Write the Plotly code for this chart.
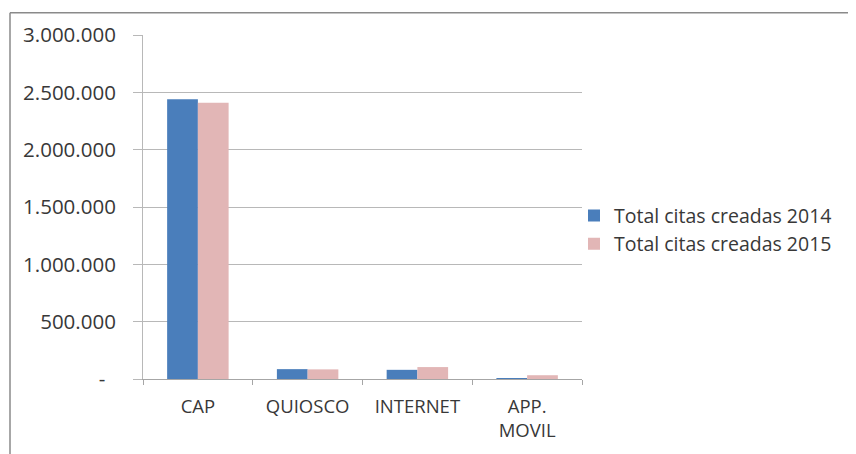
import plotly.graph_objects as go

categories = ["CAP", "QUIOSCO", "INTERNET", "APP.<br>MOVIL"]
series_2014 = [2440000, 86000, 80000, 5000]
series_2015 = [2410000, 84000, 104000, 33000]
name_2014 = "Total citas creadas 2014"
name_2015 = "Total citas creadas 2015"
y_tickvals = [0, 500000, 1000000, 1500000, 2000000, 2500000, 3000000]
y_ticktext = ["-\u00a0\u00a0", "500.000", "1.000.000", "1.500.000", "2.000.000", "2.500.000", "3.000.000"]

# page has 8px body margin; figure is placed at (8, 8)
W, H = 848, 446
L, R, T, B = 135, 274, 26, 73
PW, PH = W - L - R, H - T - B

fig = go.Figure()
fig.add_trace(go.Bar(x=categories, y=series_2014, name=name_2014, marker_color="#4A7EBB", marker_line_width=0))
fig.add_trace(go.Bar(x=categories, y=series_2015, name=name_2015, marker_color="#E2B6B6", marker_line_width=0))

fam = "Open Sans, Liberation Sans, sans-serif"
txt = "#383838"

def px(xf):
    return (xf - L) / PW

def py(yf):
    return (H - B - yf) / PH

fig.update_layout(
    width=W, height=H,
    margin=dict(l=L, r=R, t=T, b=B),
    paper_bgcolor="white", plot_bgcolor="white",
    barmode="group", bargap=0.44, bargroupgap=0,
    font=dict(family=fam, size=18, color=txt),
    showlegend=True,
    legend=dict(x=px(566), y=py(222.5), xanchor="left", yanchor="middle",
                font=dict(family=fam, size=19.5, color=txt),
                bgcolor="rgba(0,0,0,0)", itemwidth=30),
    xaxis=dict(showgrid=False, showline=True, linecolor="#a6a6a6", linewidth=1,
               ticks="outside", tickson="boundaries", ticklen=5, tickcolor="#a6a6a6",
               ticklabelstandoff=11,
               tickfont=dict(family=fam, size=18.5, color=txt)),
    yaxis=dict(range=[0, 3000000], tickvals=y_tickvals, ticktext=y_ticktext,
               showgrid=True, gridcolor="#b8b8b8", gridwidth=1,
               showline=True, linecolor="#b8b8b8", linewidth=1,
               ticks="outside", ticklen=9, tickcolor="#b8b8b8",
               ticklabelstandoff=13, zeroline=False,
               tickfont=dict(family=fam, size=20.5, color=txt)),
    shapes=[dict(type="line", xref="paper", yref="paper",
                 x0=px(2), x1=px(W + 5), y0=py(3.5), y1=py(3.5),
                 line=dict(color="#8a8a8a", width=1.5)),
            dict(type="line", xref="paper", yref="paper",
                 x0=px(2), x1=px(2), y0=py(3.5), y1=py(H + 5),
                 line=dict(color="#8a8a8a", width=1.5))],
)

fig.write_html("out.html")
